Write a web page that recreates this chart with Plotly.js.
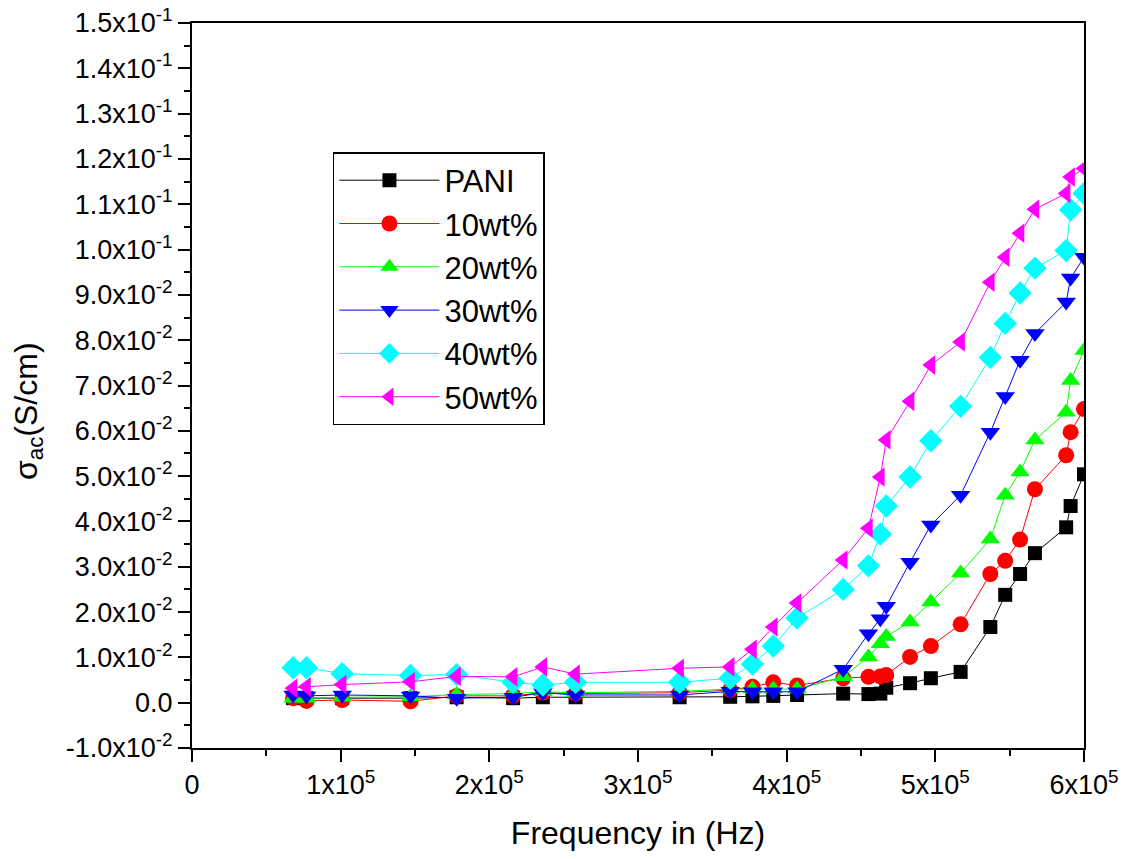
<!DOCTYPE html>
<html>
<head>
<meta charset="utf-8">
<script src="https://cdn.plot.ly/plotly-3.0.1.min.js"></script>
<style>html,body{margin:0;padding:0;background:#fff;}#chart{width:1124px;height:859px;}</style>
</head>
<body>
<div id="chart"></div>
<script>
// Frequency (Hz)
var freq = [68000, 77000, 101000, 147000, 178000, 216000, 236000, 258000, 328000, 362000, 377000, 391000, 407000, 438000, 455000, 463000, 467000, 483000, 497000, 517000, 537000, 547000, 557000, 567000, 588000, 591000, 600000];

var pani  = [0.0010, 0.0010, 0.0010, 0.0010, 0.0012, 0.0010, 0.0012, 0.0012, 0.0012, 0.0013, 0.0014, 0.0015, 0.0017, 0.0020, 0.0019, 0.0020, 0.0033, 0.0043, 0.0054, 0.0068, 0.0167, 0.0238, 0.0284, 0.0330, 0.0387, 0.0434, 0.0504];
var wt10  = [0.0010, 0.0004, 0.0006, 0.0003, 0.0015, 0.0015, 0.0022, 0.0020, 0.0022, 0.0028, 0.0035, 0.0045, 0.0038, 0.0054, 0.0057, 0.0058, 0.0061, 0.0101, 0.0125, 0.0173, 0.0284, 0.0313, 0.0360, 0.0471, 0.0546, 0.0597, 0.0648];
var wt20  = [0.0010, 0.0010, 0.0012, 0.0013, 0.0018, 0.0020, 0.0024, 0.0022, 0.0025, 0.0030, 0.0030, 0.0030, 0.0030, 0.0057, 0.0101, 0.0130, 0.0146, 0.0178, 0.0222, 0.0286, 0.0361, 0.0458, 0.0509, 0.0580, 0.0641, 0.0711, 0.0777];
var wt30  = [0.0017, 0.0015, 0.0017, 0.0015, 0.0010, 0.0012, 0.0022, 0.0017, 0.0017, 0.0025, 0.0024, 0.0024, 0.0024, 0.0074, 0.0152, 0.0185, 0.0213, 0.0310, 0.0392, 0.0458, 0.0597, 0.0676, 0.0756, 0.0815, 0.0884, 0.0937, 0.0983];
var wt40  = [0.0077, 0.0077, 0.0064, 0.0060, 0.0062, 0.0045, 0.0039, 0.0045, 0.0045, 0.0054, 0.0085, 0.0125, 0.0187, 0.0250, 0.0302, 0.0372, 0.0434, 0.0498, 0.0578, 0.0654, 0.0762, 0.0837, 0.0904, 0.0959, 0.0998, 0.1088, 0.1124];
var wt50  = [0.0032, 0.0035, 0.0040, 0.0046, 0.0058, 0.0057, 0.0079, 0.0063, 0.0076, 0.0079, 0.0118, 0.0167, 0.0220, 0.0315, 0.0385, 0.0498, 0.0580, 0.0665, 0.0745, 0.0796, 0.0928, 0.0983, 0.1036, 0.1089, 0.1124, 0.1160, 0.1179];

var seriesNames = ['PANI', '10wt%', '20wt%', '30wt%', '40wt%', '50wt%'];
var seriesData = [pani, wt10, wt20, wt30, wt40, wt50];
var colors = ['#000000', '#ff0000', '#00ff00', '#0000ff', '#00ffff', '#ff00ff'];
var symbols = ['square', 'circle', 'triangle-up', 'triangle-down', 'diamond', 'triangle-left'];
var sizes = [14, 16, 17, 17, 18, 17];

var xTickVals = [0, 100000, 200000, 300000, 400000, 500000, 600000];
var xTickText = ['0', '1x10<sup>5</sup>', '2x10<sup>5</sup>', '3x10<sup>5</sup>', '4x10<sup>5</sup>', '5x10<sup>5</sup>', '6x10<sup>5</sup>'];
var yTickVals = [-0.01, 0, 0.01, 0.02, 0.03, 0.04, 0.05, 0.06, 0.07, 0.08, 0.09, 0.10, 0.11, 0.12, 0.13, 0.14, 0.15];
var yTickText = ['-1.0x10<sup>-2</sup>', '0.0', '1.0x10<sup>-2</sup>', '2.0x10<sup>-2</sup>', '3.0x10<sup>-2</sup>', '4.0x10<sup>-2</sup>', '5.0x10<sup>-2</sup>', '6.0x10<sup>-2</sup>', '7.0x10<sup>-2</sup>', '8.0x10<sup>-2</sup>', '9.0x10<sup>-2</sup>', '1.0x10<sup>-1</sup>', '1.1x10<sup>-1</sup>', '1.2x10<sup>-1</sup>', '1.3x10<sup>-1</sup>', '1.4x10<sup>-1</sup>', '1.5x10<sup>-1</sup>'];
var yTitle = 'σ<sub>ac</sub>(S/cm)';
var xTitle = 'Frequency in (Hz)';

var traces = seriesNames.map(function(name, i) {
  return {
    x: freq,
    y: seriesData[i],
    name: name,
    type: 'scatter',
    mode: 'lines+markers',
    line: {color: colors[i], width: 1},
    marker: {symbol: symbols[i], size: sizes[i], color: colors[i], line: {width: 0}}
  };
});

var font = 'Liberation Sans, Arial, sans-serif';
var layout = {
  width: 1124,
  height: 859,
  paper_bgcolor: '#ffffff',
  plot_bgcolor: '#ffffff',
  margin: {l: 192, r: 40, t: 23, b: 111},
  showlegend: true,
  font: {family: font, color: '#000'},
  legend: {
    x: 0.158, y: 0.822, xanchor: 'left', yanchor: 'top',
    bgcolor: '#ffffff', bordercolor: '#000', borderwidth: 1.5,
    font: {family: font, size: 31, color: '#000'},
    itemwidth: 100,
    tracegroupgap: 0
  },
  xaxis: {
    range: [0, 600000],
    tickmode: 'array', tickvals: xTickVals, ticktext: xTickText,
    ticks: 'outside', ticklen: 12, tickwidth: 2, tickcolor: '#000',
    minor: {tickmode: 'linear', tick0: 0, dtick: 50000, ticks: 'outside', ticklen: 6, tickwidth: 2, tickcolor: '#000'},
    showline: true, linewidth: 2, linecolor: '#000', mirror: true,
    showgrid: false, zeroline: false,
    tickfont: {family: font, size: 27, color: '#000'},
    title: {text: xTitle, font: {family: font, size: 32, color: '#000'}, standoff: 22}
  },
  yaxis: {
    range: [-0.01, 0.15],
    tickmode: 'array', tickvals: yTickVals, ticktext: yTickText,
    ticks: 'outside', ticklen: 12, tickwidth: 2, tickcolor: '#000',
    minor: {tickmode: 'linear', tick0: 0, dtick: 0.005, ticks: 'outside', ticklen: 6, tickwidth: 2, tickcolor: '#000'},
    showline: true, linewidth: 2, linecolor: '#000', mirror: true,
    showgrid: false, zeroline: false,
    tickfont: {family: font, size: 27, color: '#000'},
    title: {text: ''}
  },
  annotations: [{
    text: yTitle, xref: 'paper', yref: 'paper',
    x: -0.184, y: 0.4646, xanchor: 'center', yanchor: 'middle',
    textangle: -90, showarrow: false,
    font: {family: font, size: 32, color: '#000'}
  }]
};

Plotly.newPlot('chart', traces, layout, {displayModeBar: false, staticPlot: true});
</script>
</body>
</html>
